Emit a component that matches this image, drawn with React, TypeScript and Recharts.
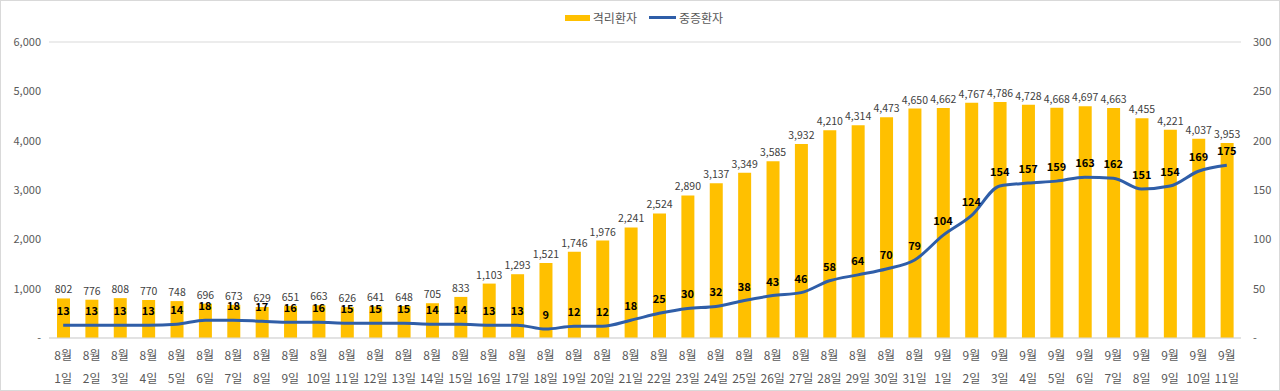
import {
  ComposedChart,
  Bar,
  Line,
  XAxis,
  YAxis,
  CartesianGrid,
  LabelList,
} from 'recharts';

const months = [
  ...Array(31).fill('8월'),
  ...Array(11).fill('9월'),
];
const days = [
  ...Array.from({ length: 31 }, (_, i) => `${i + 1}일`),
  ...Array.from({ length: 11 }, (_, i) => `${i + 1}일`),
];

// 격리환자
const isolated = [
  802, 776, 808, 770, 748, 696, 673, 629, 651, 663, 626, 641, 648, 705, 833,
  1103, 1293, 1521, 1746, 1976, 2241, 2524, 2890, 3137, 3349, 3585, 3932, 4210,
  4314, 4473, 4650, 4662, 4767, 4786, 4728, 4668, 4697, 4663, 4455, 4221, 4037,
  3953,
];

// 중증환자
const severe = [
  13, 13, 13, 13, 14, 18, 18, 17, 16, 16, 15, 15, 15, 14, 14, 13, 13, 9, 12, 12,
  18, 25, 30, 32, 38, 43, 46, 58, 64, 70, 79, 104, 124, 154, 157, 159, 163, 162,
  151, 154, 169, 175,
];

const leftTicks = [0, 1000, 2000, 3000, 4000, 5000, 6000];
const rightTicks = [0, 50, 100, 150, 200, 250, 300];

const BAR_COLOR = '#FFC000';
const LINE_COLOR = '#2F5EA8';
const FONT = '"Noto Sans CJK KR", "Noto Sans", sans-serif';

const chartData = months.map((m, i) => ({
  label: `${m}|${days[i]}`,
  isolated: isolated[i],
  severe: severe[i],
}));

const fmtLeft = (v: number) => (v === 0 ? '-' : v.toLocaleString('en-US'));
const fmtRight = (v: number) => (v === 0 ? '-' : String(v));

function DateTick(props: any) {
  const { x, y, payload } = props;
  const [m, d] = String(payload.value).split('|');
  return (
    <text x={x} y={y} textAnchor="middle" fill="#595959" fontSize={12} fontFamily={FONT}>
      <tspan x={x} dy={14}>
        {m}
      </tspan>
      <tspan x={x} dy={23}>
        {d}
      </tspan>
    </text>
  );
}

function LegendBox() {
  return (
    <div
      style={{
        position: 'absolute',
        top: 8,
        left: 0,
        width: '100%',
        display: 'flex',
        justifyContent: 'center',
        alignItems: 'center',
        fontFamily: FONT,
        fontSize: 12,
        color: '#595959',
        paddingLeft: 8,
        boxSizing: 'border-box',
      }}
    >
      <span style={{ display: 'inline-block', width: 25, height: 6, background: BAR_COLOR, marginRight: 3 }} />
      <span style={{ marginRight: 12 }}>격리환자</span>
      <span style={{ display: 'inline-block', width: 27, height: 3, background: LINE_COLOR, marginRight: 3 }} />
      <span>중증환자</span>
    </div>
  );
}

export default function App() {
  return (
    <div
      style={{
        position: 'absolute',
        left: 0,
        top: 0,
        width: 1280,
        height: 391,
        background: '#fff',
        border: '1px solid #d9d9d9',
        boxSizing: 'border-box',
      }}
    >
      <ComposedChart
        width={1278}
        height={389}
        data={chartData}
        margin={{ top: 41, right: 0, left: 8, bottom: 0 }}
        style={{ position: 'absolute', left: 0, top: 0 }}
      >
        <CartesianGrid vertical={false} stroke="#d9d9d9" />
        <XAxis
          dataKey="label"
          interval={0}
          tick={<DateTick />}
          tickLine={false}
          axisLine={{ stroke: '#d9d9d9' }}
          height={52}
        />
        <YAxis
          yAxisId="left"
          domain={[0, 6000]}
          ticks={leftTicks}
          tickFormatter={fmtLeft}
          tickLine={false}
          axisLine={false}
          width={40}
          tick={{ fill: '#595959', fontSize: 11, fontFamily: FONT }}
        />
        <YAxis
          yAxisId="right"
          orientation="right"
          domain={[0, 300]}
          ticks={rightTicks}
          tickFormatter={fmtRight}
          tickLine={false}
          axisLine={false}
          width={38}
          tickMargin={6}
          tick={{ fill: '#595959', fontSize: 11, fontFamily: FONT, textAnchor: 'start' }}
        />
        <Bar yAxisId="left" dataKey="isolated" name="격리환자" fill={BAR_COLOR} barSize={13} isAnimationActive={false}>
          <LabelList
            dataKey="isolated"
            position="top"
            formatter={(v: any) => Number(v).toLocaleString('en-US')}
            style={{ fill: '#404040', fontSize: 10.5, fontFamily: FONT }}
          />
        </Bar>
        <Line
          yAxisId="right"
          dataKey="severe"
          name="중증환자"
          type="monotone"
          stroke={LINE_COLOR}
          strokeWidth={3}
          dot={false}
          isAnimationActive={false}
        >
          <LabelList
            dataKey="severe"
            position="top"
            offset={10}
            style={{ fill: '#000', fontSize: 11, fontWeight: 'bold', fontFamily: FONT }}
          />
        </Line>
      </ComposedChart>
      <LegendBox />
    </div>
  );
}
